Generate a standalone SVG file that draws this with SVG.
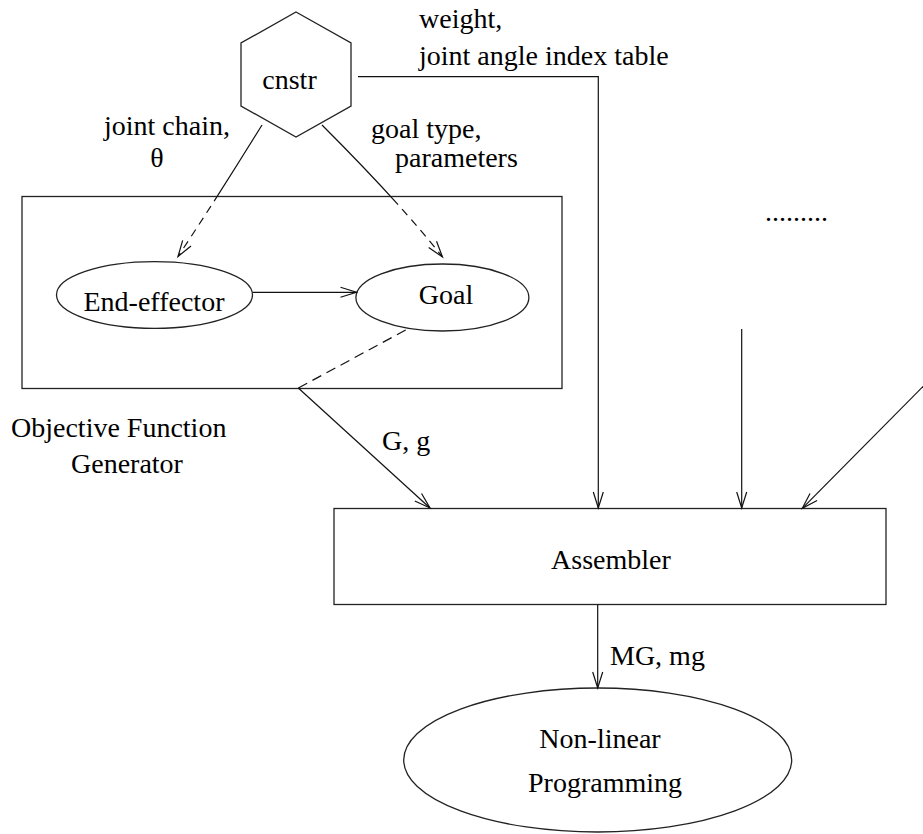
<svg xmlns="http://www.w3.org/2000/svg" width="923" height="834" viewBox="0 0 923 834">
<style>
  text { font-family: "Liberation Serif", "Times New Roman", serif; font-size: 28px; fill: #000; }
  .shape { fill: none; stroke: #222; stroke-width: 1.3; }
  .conn { fill: none; stroke: #111; stroke-width: 1.2; }
  .mid { text-anchor: middle; }
</style>
<defs>
  <marker id="arr" markerUnits="userSpaceOnUse" viewBox="-18 -7 20 14" refX="0" refY="0" markerWidth="20" markerHeight="14" orient="auto" overflow="visible">
    <path d="M-16,-5 L0,0 L-16,5" fill="none" stroke="#111" stroke-width="1.2"/>
  </marker>
</defs>
<rect width="923" height="834" fill="#fff"/>

<g id="cnstr">
  <polygon class="shape" points="296,12 351,43 351,106 296,137 241,106 241,43"/>
  <text x="289.5" y="89" class="mid">cnstr</text>
</g>

<g id="objective-function-generator">
  <rect class="shape" x="22" y="196.5" width="540" height="192"/>
  <text x="11" y="437">Objective Function</text>
  <text x="71" y="473">Generator</text>
</g>

<g id="end-effector">
  <ellipse class="shape" cx="154.5" cy="295" rx="98" ry="33.3"/>
  <text x="154" y="311" class="mid">End-effector</text>
</g>

<g id="goal">
  <ellipse class="shape" cx="442.4" cy="297.5" rx="86.5" ry="33.5"/>
  <text x="446" y="304" class="mid">Goal</text>
</g>

<g id="assembler">
  <rect class="shape" x="334" y="508.5" width="552" height="96"/>
  <text x="611" y="569" class="mid">Assembler</text>
</g>

<g id="nonlinear-programming">
  <ellipse class="shape" cx="597.7" cy="760" rx="194" ry="72"/>
  <text x="600" y="748" class="mid">Non-linear</text>
  <text x="605" y="792" class="mid">Programming</text>
</g>

<g id="connectors">
  <path class="conn" d="M262,125 Q222,190 178,256.5" stroke-dasharray="90 6 8 6 8 6 8 6 8 6 8 6 8 6 8 6 8 6" marker-end="url(#arr)"/>
  <path class="conn" d="M322,125 Q400,203 442.5,257" stroke-dasharray="110 6 8 6 8 6 8 6 8 6 8 6 8 6 8 6 8 6" marker-end="url(#arr)"/>
  <path class="conn" d="M252.6,292.3 L356.5,292.3" marker-end="url(#arr)"/>
  <path class="conn" d="M405.7,330 L298.3,388" stroke-dasharray="10 6"/>
  <path class="conn" d="M298.3,388 L430,508" marker-end="url(#arr)"/>
  <path class="conn" d="M358,76.7 H598.3 V508" marker-end="url(#arr)"/>
  <path class="conn" d="M741.7,329 V508" marker-end="url(#arr)"/>
  <path class="conn" d="M925,384.5 L802.3,508.3" marker-end="url(#arr)"/>
  <path class="conn" d="M597.7,604.5 V688" marker-end="url(#arr)"/>
</g>

<g id="labels">
  <text x="419" y="28">weight,</text>
  <text x="419" y="65">joint angle index table</text>
  <text x="104" y="135">joint chain,</text>
  <text x="157" y="167" class="mid">θ</text>
  <text x="371" y="138">goal type,</text>
  <text x="395" y="167">parameters</text>
  <text x="382" y="450">G, g</text>
  <text x="610" y="665">MG, mg</text>
  <text x="765" y="221">.........</text>
</g>
</svg>
